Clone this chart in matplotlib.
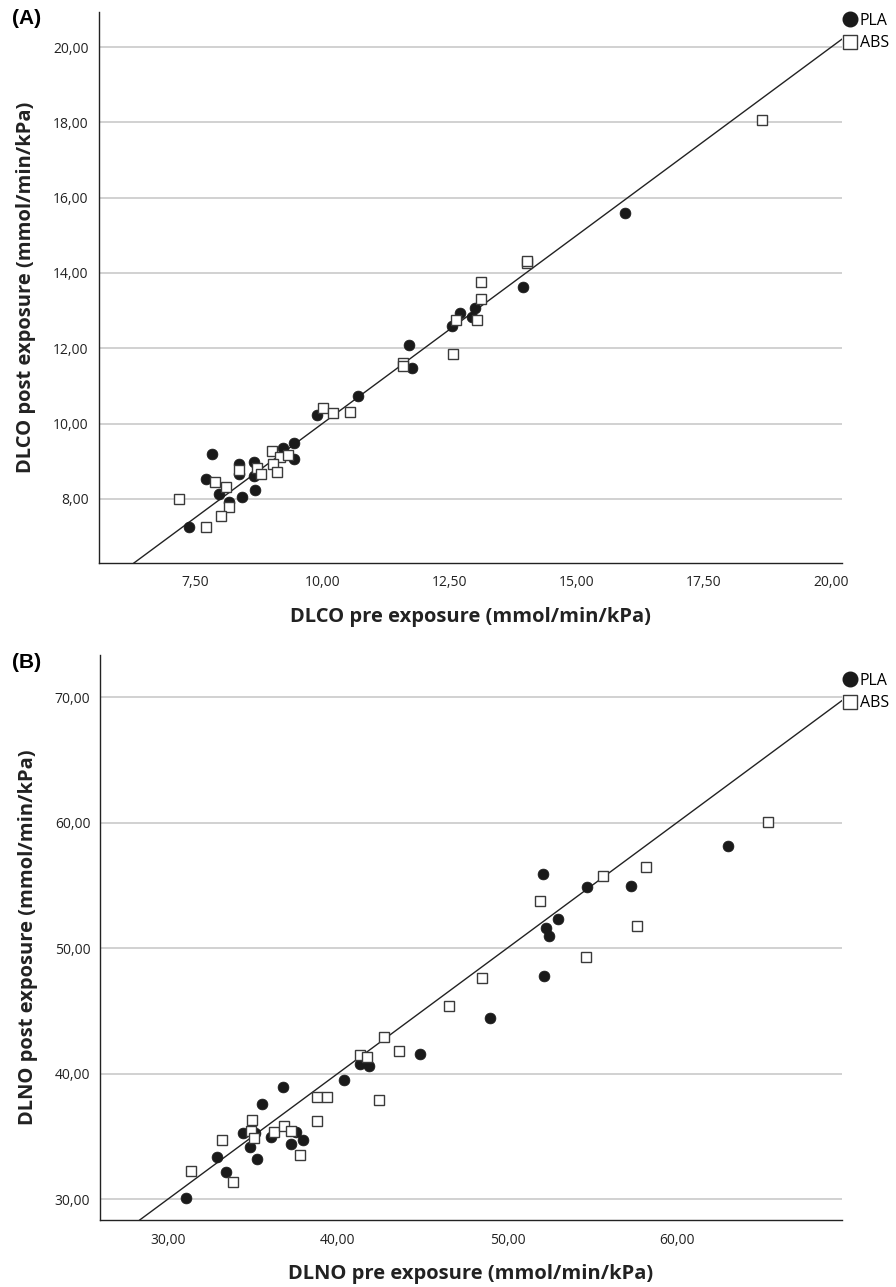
#!/usr/bin/env python3
"""Scatter of DLCO / DLNO pre vs post exposure, PLA vs ABS, with identity line."""
import matplotlib
matplotlib.use('Agg')
import matplotlib.pyplot as plt
from matplotlib.ticker import FuncFormatter, MultipleLocator
from matplotlib.lines import Line2D

# panel A: DLCO (pre, post)
dlco_pla_pre = [9.89, 9.45, 9.45, 9.23, 7.83, 8.36, 8.36, 8.65, 8.65, 7.71, 7.97, 8.17,
                8.42, 8.68, 7.39, 13.95, 13.01, 12.94, 12.71, 12.54, 11.71, 11.76, 10.70, 15.95]
dlco_pla_post = [10.23, 9.48, 9.05, 9.35, 9.19, 8.92, 8.65, 8.99, 8.61, 8.52, 8.12, 7.91,
                 8.06, 8.24, 7.26, 13.64, 13.08, 12.82, 12.93, 12.60, 12.09, 11.49, 10.73, 15.59]
dlco_abs_pre = [10.02, 10.21, 9.02, 9.17, 9.32, 9.03, 9.12, 8.71, 8.79, 8.36, 7.89, 8.10, 7.19,
                8.17, 8.01, 7.72, 14.02, 14.03, 13.12, 13.12, 13.03, 12.63, 12.57, 11.58, 11.58,
                10.55, 18.64]
dlco_abs_post = [10.41, 10.29, 9.28, 9.12, 9.17, 8.93, 8.72, 8.81, 8.66, 8.77, 8.46, 8.31, 8.00,
                 7.80, 7.55, 7.26, 14.27, 14.33, 13.77, 13.30, 12.75, 12.75, 11.85, 11.60, 11.52,
                 10.31, 18.06]

# panel B: DLNO (pre, post)
dlno_pla_pre = [31.04, 36.76, 35.56, 32.87, 33.42, 34.40, 35.13, 34.83, 35.22, 36.05, 37.25,
                37.54, 37.94, 40.39, 41.31, 41.86, 44.85, 49.00, 52.12, 54.67, 57.27, 53.00,
                52.26, 52.45, 52.17, 63.00]
dlno_pla_post = [30.10, 38.95, 37.54, 33.37, 32.13, 35.23, 35.23, 34.12, 33.19, 34.92, 34.38,
                 35.36, 34.70, 39.48, 40.76, 40.60, 41.53, 44.40, 55.87, 54.84, 54.97, 52.29,
                 51.62, 50.98, 47.79, 58.11]
dlno_abs_pre = [31.34, 33.20, 33.85, 34.97, 34.89, 35.07, 36.27, 36.86, 37.25, 37.78, 38.76,
                38.76, 39.35, 42.43, 41.31, 41.74, 43.63, 42.75, 46.56, 48.50, 51.92, 55.65,
                58.17, 57.66, 54.61, 65.36]
dlno_abs_post = [32.23, 34.70, 31.38, 36.29, 35.42, 34.84, 35.36, 35.82, 35.42, 33.51, 38.15,
                 36.24, 38.15, 37.89, 41.47, 41.34, 41.79, 42.93, 45.38, 47.60, 53.75, 55.74,
                 56.48, 51.75, 49.26, 60.07]

FONT = 'Open Sans'


def comma_fmt(v, pos):
    return f'{v:.2f}'.replace('.', ',')


def draw_panel(fig, rect, pla, abs_, xlim, ylim, xstep, ystep, xlabel, ylabel, tag, leg_y, tag_y):
    ax = fig.add_axes(rect)
    ax.set_xlim(*xlim)
    ax.set_ylim(*ylim)
    ax.xaxis.set_major_locator(MultipleLocator(xstep))
    ax.yaxis.set_major_locator(MultipleLocator(ystep))
    ax.xaxis.set_major_formatter(FuncFormatter(comma_fmt))
    ax.yaxis.set_major_formatter(FuncFormatter(comma_fmt))
    ax.yaxis.grid(True, color='#c9c9c9', lw=1.2)
    ax.set_axisbelow(True)
    for s in ('top', 'right'):
        ax.spines[s].set_visible(False)
    for s in ('left', 'bottom'):
        ax.spines[s].set_linewidth(1.0)
        ax.spines[s].set_color('#222222')
    ax.tick_params(length=0, labelsize=10, colors='#222222')
    ax.tick_params(axis='x', pad=9)
    ax.tick_params(axis='y', pad=7)
    for lab in ax.get_xticklabels() + ax.get_yticklabels():
        lab.set_family(FONT)

    lo = max(xlim[0], ylim[0])
    hi = min(xlim[1], ylim[1])
    ax.plot([lo, hi], [lo, hi], color='#222222', lw=1.0, zorder=2)

    ax.plot(pla[0], pla[1], 'o', ms=7.8, mfc='#1a1a1a', mec='#1a1a1a', mew=0.5,
            ls='none', zorder=3, clip_on=False)
    ax.plot(abs_[0], abs_[1], 's', ms=7.0, mfc='white', mec='#3a3a3a', mew=1.0,
            ls='none', zorder=4, clip_on=False)

    ax.set_xlabel(xlabel, fontsize=14.5, family=FONT, fontweight='bold',
                  color='#222222', labelpad=12)
    ax.set_ylabel(ylabel, fontsize=14.5, family=FONT, fontweight='bold',
                  color='#222222', labelpad=12)

    handles = [Line2D([], [], marker='o', ls='none', ms=10.5, mfc='#1a1a1a', mec='#1a1a1a'),
               Line2D([], [], marker='s', ls='none', ms=10.5, mfc='white', mec='#3a3a3a', mew=1.0)]
    fig.legend(handles, ['PLA', 'ABS'], loc='upper left',
               bbox_to_anchor=(843 / 896, 1 - leg_y / 1287), frameon=False,
               borderpad=0, borderaxespad=0, handlelength=0.9, handletextpad=0.15,
               labelspacing=0.4, prop={'family': FONT, 'size': 11.5})

    fig.text(12 / 896, 1 - tag_y / 1287, tag, fontsize=15,
             fontweight='bold', family='Liberation Sans', va='center', ha='left')
    return ax


def main():
    fig = plt.figure(figsize=(8.96, 12.87), dpi=100)
    draw_panel(fig, [98.5 / 896, 1 - 563 / 1287, 743.5 / 896, 551 / 1287],
               (dlco_pla_pre, dlco_pla_post), (dlco_abs_pre, dlco_abs_post),
               (5.604, 20.21), (6.30, 20.93), 2.5, 2.0,
               'DLCO pre exposure (mmol/min/kPa)', 'DLCO post exposure (mmol/min/kPa)',
               '(A)', 13, 18)
    draw_panel(fig, [100 / 896, 1 - 1220 / 1287, 742 / 896, 565 / 1287],
               (dlno_pla_pre, dlno_pla_post), (dlno_abs_pre, dlno_abs_post),
               (25.99, 69.72), (28.33, 73.35), 10, 10,
               'DLNO pre exposure (mmol/min/kPa)', 'DLNO post exposure (mmol/min/kPa)',
               '(B)', 673, 662)
    fig.savefig('out.png', dpi=100)
    print('Saved out.png')


if __name__ == '__main__':
    main()
